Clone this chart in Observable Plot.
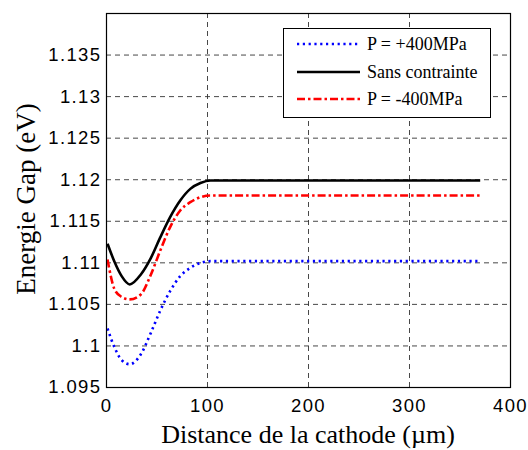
<!DOCTYPE html>
<html>
<head>
<meta charset="utf-8">
<script src="https://cdn.jsdelivr.net/npm/d3@7"></script>
<script src="https://cdn.jsdelivr.net/npm/@observablehq/plot@0.6"></script>
<style>
  html, body { margin: 0; padding: 0; background: #fff; }
  #chart { width: 528px; height: 450px; }
</style>
</head>
<body>
<div id="chart"></div>
<script>
// Distance from cathode (µm)
const distance = [1, 8, 15, 23, 34, 44, 53, 63, 73, 83, 93, 103, 120, 150, 200, 250, 300, 370];
// P = +400MPa
const gapPlus = [1.1021, 1.0998, 1.0983, 1.0978, 1.0990, 1.1016, 1.1042, 1.1066, 1.1084, 1.1094, 1.1100, 1.1102, 1.1102, 1.1102, 1.1102, 1.1102, 1.1102, 1.1102];
// Sans contrainte
const gapZero = [1.1123, 1.1101, 1.1084, 1.1074, 1.1086, 1.1106, 1.1130, 1.1155, 1.1175, 1.1189, 1.1196, 1.1199, 1.1199, 1.1199, 1.1199, 1.1199, 1.1199, 1.1199];
// P = -400MPa
const gapMinus = [1.1104, 1.1068, 1.1059, 1.1056, 1.1062, 1.1086, 1.1114, 1.1143, 1.1163, 1.1173, 1.1179, 1.1181, 1.1181, 1.1181, 1.1181, 1.1181, 1.1181, 1.1181];

const seriesNames = ["P = +400MPa", "Sans contrainte", "P = -400MPa"];
const xTicks = [0, 100, 200, 300, 400];
const yTicks = [1.095, 1.1, 1.105, 1.11, 1.115, 1.12, 1.125, 1.13, 1.135];

const styles = [
  {stroke: "#0000ff", dash: "2.2,3.6", width: 2.6},
  {stroke: "#000000", dash: null, width: 2.6},
  {stroke: "#ff0000", dash: "8,3,2.5,3", width: 2.6}
];

const series = [gapPlus, gapZero, gapMinus];
const rows = [];
series.forEach((vals, s) => vals.forEach((v, i) => rows.push({x: distance[i], y: v, s: seriesNames[s]})));

const gridStyle = {stroke: "#333", strokeDasharray: "5,4", strokeWidth: 0.9, strokeOpacity: 1};

const lineMarks = seriesNames.map((name, s) =>
  Plot.line(rows.filter(d => d.s === name), {
    x: "x", y: "y", stroke: styles[s].stroke, strokeWidth: styles[s].width,
    strokeDasharray: styles[s].dash, curve: "monotone-x", strokeLinecap: "butt"
  })
);

const yFmt = d => String(+d.toFixed(3));

const plot = Plot.plot({
  width: 528,
  height: 450,
  marginLeft: 106,
  marginRight: 18,
  marginTop: 13,
  marginBottom: 63,
  style: {background: "#fff", overflow: "visible"},
  x: {domain: [0, 400], ticks: xTicks, tickSize: 0, tickPadding: 11, label: null},
  y: {domain: [1.095, 1.14], ticks: yTicks, tickSize: 0, tickPadding: 6, label: null, tickFormat: yFmt},
  marks: [
    Plot.ruleY(yTicks.slice(1), {...gridStyle}),
    Plot.ruleX(xTicks.slice(1, -1), {...gridStyle}),
    ...lineMarks,
    Plot.frame({stroke: "#000", strokeWidth: 1.2}),
    Plot.axisX({ticks: xTicks, tickSize: 0, tickPadding: 11, fontSize: 18.5, fontFamily: "Liberation Sans, Arial, sans-serif", label: null}),
    Plot.axisY({ticks: yTicks, tickSize: 0, tickPadding: 5, fontSize: 18.5, fontFamily: "Liberation Sans, Arial, sans-serif", label: null, tickFormat: yFmt})
  ]
});

const svg = d3.select(plot);
svg.selectAll("g[aria-label='x-axis tick label'] text, g[aria-label='y-axis tick label'] text")
  .attr("fill", "#000").style("letter-spacing", "1.4px");

// Axis titles
svg.append("text")
  .attr("x", 308).attr("y", 443)
  .attr("text-anchor", "middle")
  .attr("font-family", "Liberation Serif, 'Times New Roman', serif")
  .attr("font-size", 26)
  .attr("fill", "#000")
  .text("Distance de la cathode (µm)");

svg.append("text")
  .attr("transform", "translate(35,199) rotate(-90)")
  .attr("text-anchor", "middle")
  .attr("font-family", "Liberation Serif, 'Times New Roman', serif")
  .attr("font-size", 27)
  .attr("fill", "#000")
  .text("Energie Gap (eV)");

// Legend
const lg = svg.append("g");
lg.append("rect").attr("x", 283.5).attr("y", 28.5).attr("width", 207).attr("height", 89)
  .attr("fill", "#fff").attr("stroke", "#000").attr("stroke-width", 1);
const legendY = [44, 72, 99];
seriesNames.forEach((name, s) => {
  lg.append("line").attr("x1", 297).attr("x2", 360).attr("y1", legendY[s]).attr("y2", legendY[s])
    .attr("stroke", styles[s].stroke).attr("stroke-width", styles[s].width)
    .attr("stroke-dasharray", styles[s].dash);
  lg.append("text").attr("x", 367).attr("y", legendY[s]).attr("dy", "0.35em")
    .attr("text-anchor", "start")
    .attr("font-family", "Liberation Serif, 'Times New Roman', serif")
    .attr("font-size", 18).attr("fill", "#000")
    .text(name);
});

document.getElementById("chart").appendChild(plot);
</script>
</body>
</html>
